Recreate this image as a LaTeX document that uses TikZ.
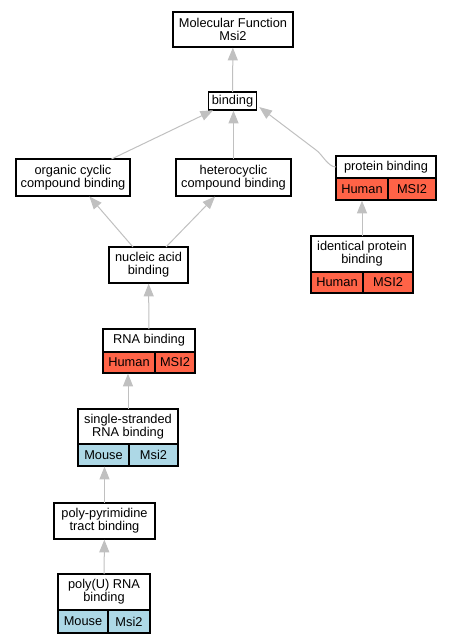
\documentclass[tikz,border=0pt]{standalone}
\usepackage{fontspec}
\setmainfont{Liberation Sans}
\usetikzlibrary{arrows.meta}

\definecolor{edgegray}{RGB}{192,192,192}
\definecolor{humanred}{RGB}{255,99,71}
\definecolor{mouseblue}{RGB}{173,216,230}

\tikzset{every picture/.style={line width=0.75pt}}
\tikzset{
  term/.style={draw=black, line width=1pt, fill=white, inner sep=0pt, outer sep=0pt, align=center, font=\fontsize{9.6}{9.5}\selectfont},
  humancell/.style={term, fill=humanred, anchor=north west},
  mousecell/.style={term, fill=mouseblue, anchor=north west},
  isa/.style={draw=edgegray, line width=0.75pt, shorten >=0.5pt, -{Triangle[length=9.5pt,width=7.5pt]}},
}

\begin{document}
\begin{tikzpicture}[x=0.75pt,y=0.75pt,yscale=-1,xscale=1]
\useasboundingbox (0,0) rectangle (449,643); %set diagram size 449 x 643

%Shape: Rectangle [id:mf]
\node [term, minimum width=90pt, minimum height=26.25pt] (mf) at (233,29.5) {Molecular Function\\Msi2};
%Shape: Rectangle [id:bind]
\node [term, minimum width=36pt, minimum height=13.5pt] (bind) at (232.5,101) {binding};
%Shape: Rectangle [id:org]
\node [term, minimum width=85.5pt, minimum height=27.75pt] (org) at (73,177.5) {organic cyclic\\compound binding};
%Shape: Rectangle [id:het]
\node [term, minimum width=86.25pt, minimum height=27.75pt] (het) at (233.5,177.5) {heterocyclic\\compound binding};
%Shape: Rectangle [id:prot]
\node [term, minimum width=75pt, minimum height=16.5pt] (prot) at (386,167) {protein binding};
\node [humancell, minimum width=39pt, minimum height=16.5pt] (prot_h) at (prot.south west) {Human};
\node [humancell, minimum width=36pt, minimum height=16.5pt] (prot_g) at (prot_h.north east) {MSI2};
%Shape: Rectangle [id:ident]
\node [term, minimum width=76.5pt, minimum height=27pt] (ident) at (362,254) {identical protein\\binding};
\node [humancell, minimum width=39pt, minimum height=15.75pt] (ident_h) at (ident.south west) {Human};
\node [humancell, minimum width=37.5pt, minimum height=15.75pt] (ident_g) at (ident_h.north east) {MSI2};
%Shape: Rectangle [id:nuc]
\node [term, minimum width=59.25pt, minimum height=27pt] (nuc) at (148.5,265) {nucleic acid\\binding};
%Shape: Rectangle [id:rna]
\node [term, minimum width=69pt, minimum height=17.25pt] (rna) at (149,340.5) {RNA binding};
\node [humancell, minimum width=39pt, minimum height=15.75pt] (rna_h) at (rna.south west) {Human};
\node [humancell, minimum width=30pt, minimum height=15.75pt] (rna_g) at (rna_h.north east) {MSI2};
%Shape: Rectangle [id:ss]
\node [term, minimum width=75pt, minimum height=26.25pt] (ss) at (128,426.5) {single-stranded\\RNA binding};
\node [mousecell, minimum width=38.25pt, minimum height=16.5pt] (ss_m) at (ss.south west) {Mouse};
\node [mousecell, minimum width=36.75pt, minimum height=16.5pt] (ss_g) at (ss_m.north east) {Msi2};
%Shape: Rectangle [id:pp]
\node [term, minimum width=75.75pt, minimum height=27pt] (pp) at (104.5,521) {poly-pyrimidine\\tract binding};
%Shape: Rectangle [id:pu]
\node [term, minimum width=69pt, minimum height=27pt] (pu) at (104,592) {poly(U) RNA\\binding};
\node [mousecell, minimum width=37.5pt, minimum height=17.25pt] (pu_m) at (pu.south west) {Mouse};
\node [mousecell, minimum width=31.5pt, minimum height=17.25pt] (pu_g) at (pu_m.north east) {Msi2};

%Straight Lines
\draw [isa] (bind) -- (mf);
\draw [isa] (org) -- (bind);
\draw [isa] (het.north) -- (het.north |- bind.south);
\draw [isa] (nuc) -- (org);
\draw [isa] (nuc) -- (het);
\draw [isa] (ident.north) -- (ident.north |- prot_h.south);
\draw [isa] (rna) -- (nuc);
\draw [isa] (ss.north) -- (ss.north |- rna_h.south);
\draw [isa] (pp.north) -- (pp.north |- ss_m.south);
\draw [isa] (pu) -- (pp);
%Curve Lines
\coordinate (bend) at (316,150);
\draw [isa] (prot.west) .. controls (328,167) and (322,154) .. (bend) -- ([xshift=1.7pt,yshift=-2.5pt]bind.south east);

\end{tikzpicture}
\end{document}
